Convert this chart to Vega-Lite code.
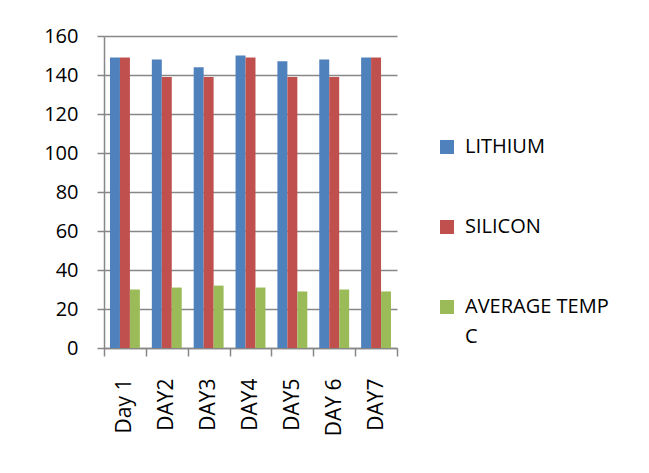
{
  "$schema": "https://vega.github.io/schema/vega-lite/v6.json",
  "autosize": {"type": "none"},
  "padding": {"left": 104, "top": 36, "right": 252, "bottom": 125},
  "width": 293,
  "height": 312,
  "background": "white",
  "config": {
    "view": {"stroke": null},
    "font": "Open Sans",
    "style": {"guide-label": {"lineHeight": 30}}
  },
  "data": {
    "values": [
      {"day": "Day 1", "series": "LITHIUM", "value": 149},
      {"day": "Day 1", "series": "SILICON", "value": 149},
      {"day": "Day 1", "series": "AVERAGE TEMP C", "value": 30},
      {"day": "DAY2", "series": "LITHIUM", "value": 148},
      {"day": "DAY2", "series": "SILICON", "value": 139},
      {"day": "DAY2", "series": "AVERAGE TEMP C", "value": 31},
      {"day": "DAY3", "series": "LITHIUM", "value": 144},
      {"day": "DAY3", "series": "SILICON", "value": 139},
      {"day": "DAY3", "series": "AVERAGE TEMP C", "value": 32},
      {"day": "DAY4", "series": "LITHIUM", "value": 150},
      {"day": "DAY4", "series": "SILICON", "value": 149},
      {"day": "DAY4", "series": "AVERAGE TEMP C", "value": 31},
      {"day": "DAY5", "series": "LITHIUM", "value": 147},
      {"day": "DAY5", "series": "SILICON", "value": 139},
      {"day": "DAY5", "series": "AVERAGE TEMP C", "value": 29},
      {"day": "DAY 6", "series": "LITHIUM", "value": 148},
      {"day": "DAY 6", "series": "SILICON", "value": 139},
      {"day": "DAY 6", "series": "AVERAGE TEMP C", "value": 30},
      {"day": "DAY7", "series": "LITHIUM", "value": 149},
      {"day": "DAY7", "series": "SILICON", "value": 149},
      {"day": "DAY7", "series": "AVERAGE TEMP C", "value": 29}
    ]
  },
  "mark": {"type": "bar"},
  "encoding": {
    "x": {
      "field": "day",
      "type": "nominal",
      "sort": null,
      "scale": {"paddingInner": 0, "paddingOuter": 0},
      "axis": {
        "title": null,
        "labelAngle": -90,
        "labelAlign": "right",
        "labelBaseline": "middle",
        "labelFontSize": 21,
        "labelColor": "black",
        "labelPadding": 22,
        "tickBand": "extent",
        "tickSize": 8,
        "tickColor": "#878787",
        "tickWidth": 1.5,
        "domainColor": "#878787",
        "domainWidth": 1.5,
        "grid": false
      }
    },
    "xOffset": {
      "field": "series",
      "type": "nominal",
      "sort": ["LITHIUM", "SILICON", "AVERAGE TEMP C"],
      "scale": {"paddingInner": 0, "paddingOuter": 0.6}
    },
    "y": {
      "field": "value",
      "type": "quantitative",
      "scale": {"domain": [0, 160], "nice": false},
      "axis": {
        "title": null,
        "values": [0, 20, 40, 60, 80, 100, 120, 140, 160],
        "labelFontSize": 20,
        "labelColor": "black",
        "labelPadding": 19,
        "tickSize": 7,
        "tickColor": "#878787",
        "tickWidth": 1.5,
        "domainColor": "#878787",
        "domainWidth": 1.5,
        "gridColor": "#878787",
        "gridWidth": 1.5
      }
    },
    "color": {
      "field": "series",
      "type": "nominal",
      "sort": ["LITHIUM", "SILICON", "AVERAGE TEMP C"],
      "scale": {
        "domain": ["LITHIUM", "SILICON", "AVERAGE TEMP C"],
        "range": ["#4F81BD", "#C0504D", "#9BBB59"]
      },
      "legend": {
        "title": null,
        "orient": "none",
        "legendX": 333,
        "legendY": 101,
        "padding": 0,
        "symbolType": "square",
        "symbolSize": 196,
        "symbolStrokeWidth": 0,
        "labelFontSize": 20,
        "labelColor": "black",
        "labelOffset": 8,
        "labelLimit": 300,
        "rowPadding": 60,
        "labelExpr": "datum.label == 'AVERAGE TEMP C' ? ['AVERAGE TEMP', 'C'] : datum.label",
        "encoding": {
          "labels": {"update": {"lineHeight": {"value": 30}}}
        }
      }
    }
  }
}
